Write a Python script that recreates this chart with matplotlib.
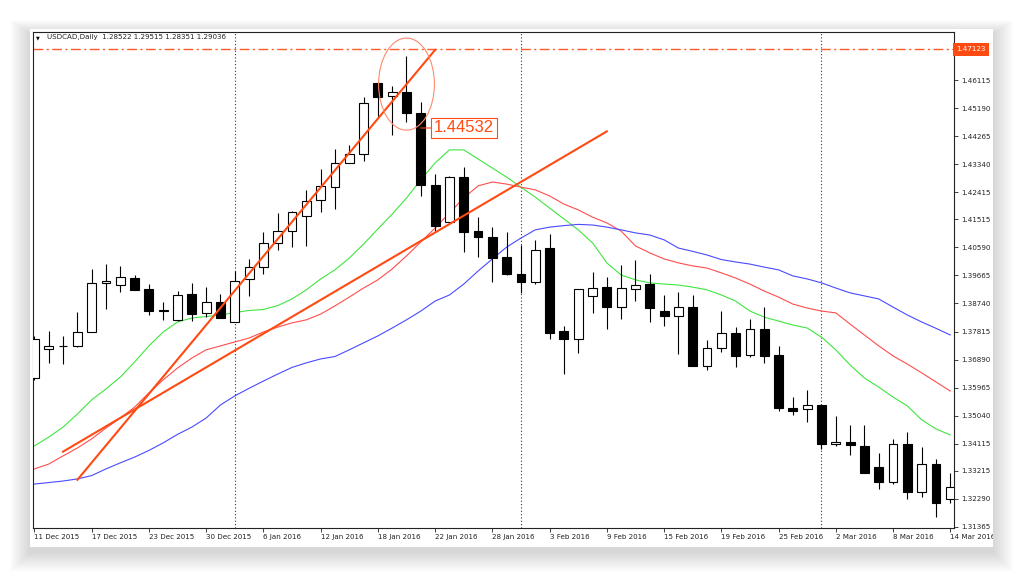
import matplotlib
matplotlib.use('Agg')
import matplotlib.pyplot as plt
from matplotlib.patches import Rectangle, Ellipse
from matplotlib.transforms import Bbox, TransformedBbox, blended_transform_factory
import numpy as np

# USDCAD daily bars, 11 Dec 2015 .. 14 Mar 2016
opens = [1.3627, 1.3723, 1.3733, 1.3734, 1.3781, 1.3940, 1.3934, 1.3959, 1.3921, 1.3849,
         1.3819, 1.3904, 1.3844, 1.3880, 1.3814, 1.3954, 1.3995, 1.4073, 1.4112, 1.4163,
         1.4216, 1.4257, 1.4339, 1.4366, 1.4603, 1.4559, 1.4571, 1.4503, 1.4266, 1.4144,
         1.4292, 1.4114, 1.4094, 1.4026, 1.3971, 1.3945, 1.4056, 1.3784, 1.3756, 1.3899,
         1.3929, 1.3861, 1.3923, 1.3937, 1.3850, 1.3834, 1.3861, 1.3668, 1.3728, 1.3778,
         1.3703, 1.3790, 1.3705, 1.3529, 1.3525, 1.3539, 1.3409, 1.3418, 1.3405, 1.3334,
         1.3284, 1.3409, 1.3251, 1.3345, 1.3228]
highs = [1.3767, 1.3784, 1.3767, 1.3847, 1.3988, 1.4004, 1.3998, 1.3968, 1.3937, 1.3878,
         1.3916, 1.3943, 1.3929, 1.3905, 1.3982, 1.4021, 1.4111, 1.4172, 1.4178, 1.4249,
         1.4319, 1.4383, 1.4398, 1.4556, 1.4604, 1.4592, 1.4691, 1.4540, 1.4301, 1.4294,
         1.4325, 1.4158, 1.4125, 1.4111, 1.4067, 1.4084, 1.4103, 1.3800, 1.3922, 1.3979,
         1.3962, 1.4001, 1.4018, 1.3970, 1.3902, 1.3913, 1.3902, 1.3754, 1.3849, 1.3795,
         1.3824, 1.3861, 1.3735, 1.3566, 1.3589, 1.3540, 1.3503, 1.3474, 1.3474, 1.3380,
         1.3426, 1.3449, 1.3401, 1.3360, 1.3314]
lows = [1.3622, 1.3677, 1.3674, 1.3731, 1.3780, 1.3855, 1.3913, 1.3917, 1.3836, 1.3820,
        1.3815, 1.3817, 1.3830, 1.3825, 1.3813, 1.3899, 1.3971, 1.4051, 1.4059, 1.4064,
        1.4175, 1.4187, 1.4337, 1.4344, 1.4485, 1.4430, 1.4474, 1.4230, 1.4109, 1.4142,
        1.4045, 1.4028, 1.3946, 1.3968, 1.3910, 1.3937, 1.3757, 1.3641, 1.3712, 1.3842,
        1.3789, 1.3823, 1.3883, 1.3814, 1.3800, 1.3707, 1.3667, 1.3655, 1.3715, 1.3663,
        1.3696, 1.3677, 1.3518, 1.3507, 1.3484, 1.3393, 1.3404, 1.3373, 1.3315, 1.3263,
        1.3278, 1.3230, 1.3234, 1.3168, 1.3215]
closes = [1.3756, 1.3735, 1.3735, 1.3781, 1.3941, 1.3948, 1.3962, 1.3919, 1.3849, 1.3851,
          1.3901, 1.3838, 1.3878, 1.3827, 1.3948, 1.3995, 1.4075, 1.4113, 1.4175, 1.4213,
          1.4262, 1.4339, 1.4366, 1.4535, 1.4556, 1.4573, 1.4504, 1.4265, 1.4129, 1.4292,
          1.4111, 1.4092, 1.4023, 1.3971, 1.3946, 1.4051, 1.3778, 1.3756, 1.3921, 1.3925,
          1.3861, 1.3925, 1.3935, 1.3858, 1.3834, 1.3863, 1.3668, 1.3728, 1.3776, 1.3702,
          1.3790, 1.3702, 1.3528, 1.3520, 1.3539, 1.3409, 1.3418, 1.3407, 1.3316, 1.3284,
          1.3409, 1.3251, 1.3345, 1.3217, 1.3269]

# moving averages (green = fast, red = medium, blue = slow)
ma_fast = [1.3404, 1.3433, 1.3466, 1.3509, 1.3556, 1.3592, 1.3631, 1.3681, 1.3734, 1.3780,
           1.3813, 1.3826, 1.3831, 1.3836, 1.3844, 1.3851, 1.3854, 1.3867, 1.3889, 1.3919,
           1.3955, 1.3985, 1.4024, 1.4070, 1.4120, 1.4169, 1.4222, 1.4282, 1.4338, 1.4381,
           1.4381, 1.4351, 1.4321, 1.4291, 1.4258, 1.4225, 1.4189, 1.4153, 1.4117, 1.4074,
           1.4008, 1.3968, 1.3952, 1.3942, 1.3938, 1.3935, 1.3928, 1.3919, 1.3902, 1.3882,
           1.3849, 1.3829, 1.3816, 1.3803, 1.3793, 1.3763, 1.3721, 1.3671, 1.3628, 1.3598,
           1.3565, 1.3536, 1.3490, 1.3460, 1.3440]
ma_mid = [1.3328, 1.3344, 1.3371, 1.3397, 1.3427, 1.3463, 1.3496, 1.3532, 1.3579, 1.3622,
          1.3661, 1.3694, 1.3721, 1.3734, 1.3747, 1.3760, 1.3780, 1.3796, 1.3810, 1.3820,
          1.3839, 1.3866, 1.3895, 1.3925, 1.3952, 1.3988, 1.4031, 1.4077, 1.4123, 1.4173,
          1.4222, 1.4262, 1.4275, 1.4268, 1.4258, 1.4249, 1.4229, 1.4202, 1.4183, 1.4159,
          1.4140, 1.4113, 1.4064, 1.4041, 1.4021, 1.4008, 1.3998, 1.3991, 1.3975, 1.3958,
          1.3938, 1.3915, 1.3895, 1.3872, 1.3859, 1.3849, 1.3843, 1.3806, 1.3770, 1.3734,
          1.3701, 1.3674, 1.3645, 1.3615, 1.3585]
ma_slow = [1.3278, 1.3283, 1.3288, 1.3295, 1.3306, 1.3328, 1.3348, 1.3367, 1.3389, 1.3414,
           1.3442, 1.3466, 1.3496, 1.3539, 1.3569, 1.3594, 1.3618, 1.3641, 1.3663, 1.3678,
           1.3691, 1.3699, 1.3721, 1.3744, 1.3767, 1.3793, 1.3820, 1.3849, 1.3882, 1.3902,
           1.3938, 1.3981, 1.4021, 1.4060, 1.4090, 1.4117, 1.4126, 1.4131, 1.4135, 1.4133,
           1.4126, 1.4117, 1.4107, 1.4100, 1.4084, 1.4057, 1.4046, 1.4034, 1.4019, 1.4011,
           1.4004, 1.3994, 1.3985, 1.3965, 1.3955, 1.3942, 1.3925, 1.3909, 1.3899, 1.3889,
           1.3862, 1.3836, 1.3813, 1.3792, 1.3770]

date_ticks = list(range(0, 65, 4))
date_labels = ['11 Dec 2015', '17 Dec 2015', '23 Dec 2015', '30 Dec 2015', '6 Jan 2016',
               '12 Jan 2016', '18 Jan 2016', '22 Jan 2016', '28 Jan 2016', '3 Feb 2016',
               '9 Feb 2016', '15 Feb 2016', '19 Feb 2016', '25 Feb 2016', '2 Mar 2016',
               '8 Mar 2016', '14 Mar 2016']
price_ticks = [1.47040, 1.46115, 1.45190, 1.44265, 1.43340, 1.42415, 1.41515, 1.40590,
               1.39665, 1.38740, 1.37815, 1.36890, 1.35965, 1.35040, 1.34115, 1.33215,
               1.32290, 1.31365]
separators = [14, 34, 55]          # month starts
steep_bars, steep_prices = [3.0, 28.0], [1.3292, 1.4711]
flat_bars, flat_prices = [2.0, 40.0], [1.3385, 1.4442]
hline_price = 1.47123
label_bar, label_price = 27, 1.44532
circle_bar, circle_price = 26.0, 1.4598
header = 'USDCAD,Daily  1.28522 1.29515 1.28351 1.29036'

ORANGE = '#ff4a12'
FS = 5.1

fig = plt.figure(figsize=(10.24, 5.76), dpi=100)
fig.patch.set_facecolor('white')

# card with a soft drop shadow behind the chart
bg = fig.add_axes([0, 0, 1, 1], zorder=-5)
bg.set_xlim(0, 1024)
bg.set_ylim(576, 0)
bg.axis('off')
for k in range(20, 0, -1):
    bg.add_patch(Rectangle((30 - k, 29 - k * 0.7 + 5), 963 + 2 * k, 518 + k * 1.7,
                           color='black', alpha=0.008, lw=0))
bg.add_patch(Rectangle((30, 29), 963, 518, color='white', lw=0))

ax = fig.add_axes([33 / 1024, 48 / 576, 921 / 1024, 496 / 576])
ax.set_facecolor('white')
x = np.arange(len(opens))

# moving averages go behind the candles
ax.plot(x, ma_fast, color='#3fe63f', lw=0.8, zorder=2)
ax.plot(x, ma_mid, color='#ff4d4d', lw=0.8, zorder=2)
ax.plot(x, ma_slow, color='#4a4aff', lw=0.8, zorder=2)

# candles
o = np.array(opens)
c = np.array(closes)
bull = c >= o
ax.vlines(x, lows, highs, color='black', lw=0.8, zorder=3)
bottoms = np.minimum(o, c)
heights = np.maximum(np.abs(c - o), 0.00015)
ax.bar(x, heights, bottom=bottoms, width=0.62,
       color=np.where(bull, 'white', 'black'), edgecolor='black', lw=0.8, zorder=3.5)

# period separators and the dash-dot level
for s in separators:
    ax.axvline(s, color='#333333', lw=0.8, linestyle=(0, (1, 2)), zorder=1)
ax.axhline(hline_price, color='#ff5a2c', lw=1.0, linestyle=(0, (7, 2.5, 1.5, 2.5)), zorder=2)

# trend lines, circle and price label
ax.plot(steep_bars, steep_prices, color=ORANGE, lw=1.5, zorder=5)
ax.plot(flat_bars, flat_prices, color=ORANGE, lw=1.5, zorder=5)
ax.add_patch(Ellipse((circle_bar, circle_price), 3.9, 0.0304, fill=False,
                     edgecolor='#ff8a6a', lw=0.8, zorder=5))
ax.annotate(f'{label_price:.5f}', xy=(label_bar, label_price), xytext=(9.5, 0),
            textcoords='offset points', ha='left', va='center', fontsize=12,
            family='Liberation Sans', color=ORANGE, zorder=6,
            bbox=dict(boxstyle='square,pad=0.15', fc='white', ec=ORANGE, lw=0.8),
            arrowprops=dict(arrowstyle='-', color=ORANGE, lw=0.8, shrinkA=0, shrinkB=0))

ax.set_xlim(-0.1, 64.26)
ax.set_ylim(1.3133, 1.4770)

# axes look
for sp in ax.spines.values():
    sp.set_color('#222222')
    sp.set_linewidth(0.8)
ax.yaxis.tick_right()
ax.set_yticks(price_ticks)
# the top tick label sits under the orange price tag
ax.set_yticklabels([''] + [f'{p:.5f}' for p in price_ticks[1:]])
ax.tick_params(axis='y', direction='out', length=3, width=0.6, pad=2,
               labelsize=FS, colors='#222222')
ax.set_xticks(date_ticks)
ax.set_xticklabels([])
ax.tick_params(axis='x', direction='out', length=3, width=0.6, colors='#222222')

# price tag of the level on the right scale
ax.text(1.0025, hline_price, f'{hline_price:.5f}', transform=ax.get_yaxis_transform(),
        ha='left', va='center', fontsize=FS, color='white', zorder=10, clip_on=False,
        bbox=dict(boxstyle='square,pad=0.45', fc=ORANGE, ec='none'))

# date labels, cut at the card edge
card = TransformedBbox(Bbox.from_extents(0, 0, 993 / 1024, 1), fig.transFigure)
tr = blended_transform_factory(ax.transData, fig.transFigure)
for t, lab in zip(date_ticks, date_labels):
    txt = fig.text(t, 39 / 576, lab, transform=tr, ha='left', va='center',
                   fontsize=FS, color='#222222')
    txt.set_clip_box(card)
    txt.set_clip_on(True)

# header
ax.text(0.003, 0.989, '▼', transform=ax.transAxes, fontsize=3.5, va='center', ha='left')
ax.text(0.0152, 0.989, header, transform=ax.transAxes, fontsize=FS, va='center',
        ha='left', color='#222222')

fig.savefig('out.png', dpi=100)
